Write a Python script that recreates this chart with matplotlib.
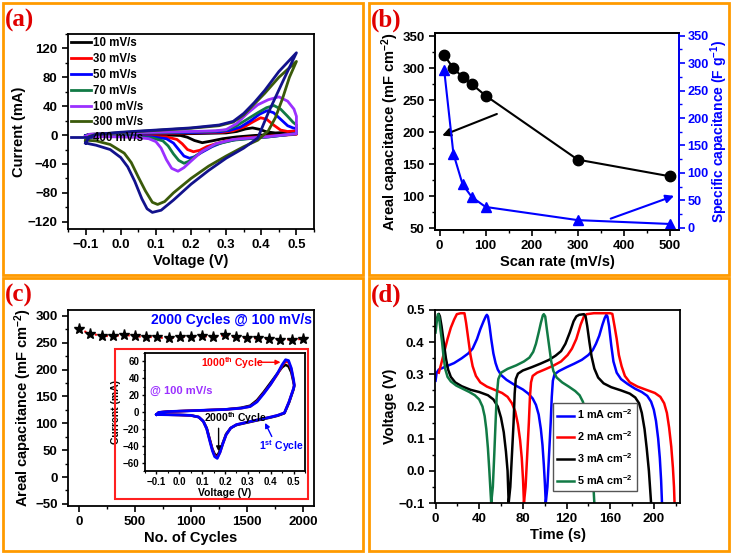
import numpy as np
import matplotlib.pyplot as plt
from matplotlib.patches import Rectangle
from matplotlib.ticker import MultipleLocator

plt.rcParams['font.family'] = ['Liberation Sans', 'DejaVu Sans']
plt.rcParams['font.weight'] = 'bold'
plt.rcParams['axes.labelweight'] = 'bold'
plt.rcParams['mathtext.fontset'] = 'custom'
plt.rcParams['mathtext.rm'] = 'Liberation Sans:bold'
plt.rcParams['mathtext.bf'] = 'Liberation Sans:bold'
plt.rcParams['mathtext.default'] = 'bf'
plt.rcParams['axes.linewidth'] = 1.3

# ---------------- (a) CV at different scan rates ----------------
cv_labels = ['10 mV/s', '30 mV/s', '50 mV/s', '70 mV/s', '100 mV/s', '300 mV/s', '400 mV/s']
cv_colors = ['#000000', '#FF0000', '#0000FF', '#117A45', '#9B30FF', '#3A5A0A', '#12128C']

v_10 = [-0.10, -0.09, 0.00, 0.10, 0.20, 0.30, 0.33, 0.355, 0.375, 0.395, 0.415, 0.44, 0.50,
        0.50, 0.44, 0.38, 0.33, 0.29, 0.26, 0.232, 0.21, 0.19, 0.17, 0.10, 0.00, -0.10]
i_10 = [-0.5, 1, 1.5, 1.8, 2, 3, 5, 8.5, 10, 8, 4.5, 3, 4.5,
        2.5, 1, -0.5, -2.5, -5, -8, -10.5, -7.5, -3, -0.5, 0.5, 0, -0.5]

v_30 = [-0.10, -0.09, 0.00, 0.10, 0.20, 0.29, 0.32, 0.35, 0.375, 0.398, 0.415, 0.435, 0.455, 0.475, 0.50,
        0.50, 0.43, 0.35, 0.30, 0.27, 0.245, 0.225, 0.207, 0.19, 0.175, 0.16, 0.13, 0.05, -0.10]
i_30 = [-1.5, 1, 2, 2.5, 3, 4, 6, 11, 18, 24, 22, 14, 7, 5, 6,
        1, -1, -4, -8, -12, -16, -21, -23, -20, -12, -6, -2.5, -1.5, -1.5]

v_50 = [-0.10, -0.09, 0.00, 0.10, 0.20, 0.28, 0.31, 0.34, 0.37, 0.395, 0.417, 0.435, 0.455, 0.475, 0.49, 0.50,
        0.50, 0.42, 0.33, 0.29, 0.26, 0.23, 0.21, 0.196, 0.18, 0.165, 0.15, 0.13, 0.09, 0.00, -0.10]
i_50 = [-1, 1, 2, 3, 3.5, 4.5, 6.5, 11, 20, 29, 34, 31, 22, 13, 10, 9,
        2, -2.5, -6, -10, -16, -24, -30, -32, -29, -20, -11, -5, -2.5, -1.5, -1]

v_70 = [-0.10, -0.09, 0.00, 0.10, 0.20, 0.27, 0.30, 0.33, 0.36, 0.39, 0.415, 0.436, 0.455, 0.475, 0.49, 0.50,
        0.50, 0.42, 0.32, 0.27, 0.24, 0.21, 0.195, 0.18, 0.165, 0.15, 0.135, 0.12, 0.09, 0.04, 0.00, -0.10]
i_70 = [-1.5, 1, 2.5, 3.5, 4.5, 5.5, 7, 13, 22, 31, 38, 41, 36, 26, 18, 14,
        2, -2.5, -7, -13, -20, -30, -36, -39, -35, -26, -15, -8, -4, -2.5, -2, -1.5]

v_100 = [-0.10, -0.09, 0.00, 0.10, 0.20, 0.27, 0.30, 0.33, 0.36, 0.39, 0.42, 0.45, 0.475, 0.493, 0.50,
         0.50, 0.42, 0.32, 0.27, 0.23, 0.20, 0.18, 0.163, 0.145, 0.13, 0.115, 0.10, 0.08, 0.04, 0.00, -0.10]
i_100 = [-2, 1, 3, 4, 5, 6, 7.6, 16, 30, 42, 49, 53, 47, 36, 26,
         2, -2, -6, -12, -23, -36, -45, -50, -46, -34, -18, -9, -5, -3, -2.5, -2]

v_300 = [-0.10, -0.09, -0.07, 0.00, 0.10, 0.20, 0.28, 0.32, 0.35, 0.38, 0.41, 0.45, 0.50,
         0.48, 0.46, 0.44, 0.42, 0.39, 0.35, 0.30, 0.25, 0.20, 0.15, 0.125, 0.105, 0.09, 0.07, 0.05, 0.03, 0.01, -0.03, -0.07, -0.10]
i_300 = [-8, -2, 1, 3.5, 6.5, 9.5, 13, 18, 28, 43, 58, 80, 102,
         80, 50, 24, 6, -7, -16, -29, -43, -60, -80, -92, -96, -93, -77, -58, -38, -25, -13, -8, -7]

v_400 = [-0.10, -0.09, -0.07, 0.00, 0.10, 0.20, 0.28, 0.32, 0.35, 0.38, 0.41, 0.45, 0.50,
         0.46, 0.42, 0.39, 0.35, 0.30, 0.25, 0.20, 0.15, 0.115, 0.09, 0.075, 0.06, 0.04, 0.02, 0.00, -0.03, -0.07, -0.10]
i_400 = [-11, -3, 1, 4, 7, 10, 14, 19, 30, 45, 62, 88, 114,
         73, 31, -4, -18, -32, -49, -68, -90, -104, -107, -102, -88, -64, -44, -31, -20, -14, -11]

cv_v = [v_10, v_30, v_50, v_70, v_100, v_300, v_400]
cv_i = [i_10, i_30, i_50, i_70, i_100, i_300, i_400]

# ---------------- (b) capacitance vs scan rate ----------------
scan_rate = [10, 30, 50, 70, 100, 300, 500]
areal_cap = [320, 300, 286, 275, 257, 157, 131]
specific_cap = [287, 135, 79, 56, 38, 14, 7]

# ---------------- (c) cycling ----------------
cycle_no = [0, 100, 200, 300, 400, 500, 600, 700, 800, 900, 1000,
            1100, 1200, 1300, 1400, 1500, 1600, 1700, 1800, 1900, 2000]
cycle_cap = [275, 267, 263, 262, 265, 262, 261, 260, 258, 261, 261,
             262, 261, 264, 260, 259, 258, 257, 256, 256, 257]

inset_v = [-0.10, -0.09, -0.05, 0.00, 0.10, 0.20, 0.27, 0.31, 0.34, 0.37, 0.40, 0.43, 0.45, 0.465, 0.478, 0.49, 0.50, 0.503,
           0.50, 0.48, 0.46, 0.43, 0.40, 0.34, 0.29, 0.25, 0.225, 0.205, 0.19, 0.178, 0.166, 0.155, 0.145, 0.135, 0.12, 0.105, 0.085, 0.05, 0.00, -0.06, -0.10]
inset_i_1st = [-3, -0.5, 0.5, 1, 2, 3, 4.5, 6.5, 12, 22, 33, 46, 56, 62, 61, 52, 38, 32,
               28, 12, -1, -4, -6, -9.5, -12.5, -15, -19, -27, -38, -48, -55, -53, -46, -36, -20, -11, -6, -4, -3.5, -3.2, -3]
inset_i_1000 = [-3, -0.5, 0.5, 1, 2, 3, 4.5, 6.5, 12.5, 22.5, 33, 45, 55, 60, 59, 51, 37, 32,
                28, 12, -1, -4, -6, -9.5, -12.5, -15, -19, -27, -38, -48, -54, -52, -45, -35, -20, -11, -6, -4, -3.5, -3.2, -3]
inset_i_2000 = [-3, -0.5, 0.5, 1, 2, 3, 5, 7.5, 14, 24, 35, 46, 53, 56, 54, 47, 35, 31,
                27, 11, -1.5, -4.5, -6.5, -10, -13, -15.5, -19, -26, -37, -46, -52, -50, -44, -34, -19, -11, -6, -4, -3.5, -3.2, -3]

# ---------------- (d) GCD ----------------
gcd_labels = ['1 mA cm$^{-2}$', '2 mA cm$^{-2}$', '3 mA cm$^{-2}$', '5 mA cm$^{-2}$']
gcd_colors = ['#0000FF', '#FF0000', '#000000', '#117A45']

t_1 = [0, 1, 3, 10, 17, 24, 30, 34, 38, 41, 44, 46, 47, 48,
       49.5, 51, 53, 55, 57, 60, 65, 72, 80, 85, 89, 92, 94.5, 96.5, 98, 99.2, 100.2, 101,
       102.5, 104, 105.5, 106.5, 107.5, 109, 113, 120, 127, 134, 140, 144, 147, 150, 153, 155, 156.5, 157.5,
       159, 161, 163, 166, 170, 176, 183, 189, 194, 197.5, 200, 202, 204, 205.5, 206.7, 207.5]
u_1 = [0.28, 0.305, 0.315, 0.325, 0.335, 0.35, 0.365, 0.38, 0.41, 0.44, 0.465, 0.48, 0.485, 0.48,
       0.45, 0.41, 0.365, 0.335, 0.315, 0.298, 0.283, 0.268, 0.253, 0.24, 0.225, 0.205, 0.175, 0.13, 0.08, 0.02, -0.04, -0.1,
       -0.05, 0.05, 0.15, 0.23, 0.28, 0.30, 0.31, 0.322, 0.333, 0.345, 0.36, 0.375, 0.395, 0.42, 0.455, 0.475, 0.485, 0.48,
       0.45, 0.39, 0.34, 0.305, 0.285, 0.27, 0.255, 0.245, 0.233, 0.215, 0.19, 0.155, 0.10, 0.04, -0.03, -0.1]

t_2 = [3, 5, 8, 11, 14, 17, 19.5, 23, 26.5,
       28, 30, 32, 34, 37, 41, 47, 54, 61, 66, 70, 73, 75.5, 77.5, 79, 80.2, 81,
       82.5, 84, 85.5, 86.5, 87.5, 89, 93, 100, 108, 115, 121, 125, 129, 133, 136, 138.5, 145, 160, 162,
       164, 166, 168, 170.5, 173.5, 178, 185, 193, 201, 206, 209.5, 212, 214, 216, 217.5, 218.5, 219]
u_2 = [0.305, 0.33, 0.37, 0.41, 0.445, 0.47, 0.487, 0.49, 0.49,
       0.46, 0.41, 0.36, 0.325, 0.295, 0.275, 0.262, 0.252, 0.242, 0.23, 0.21, 0.185, 0.145, 0.095, 0.04, -0.03, -0.1,
       -0.05, 0.05, 0.15, 0.23, 0.275, 0.295, 0.305, 0.315, 0.327, 0.34, 0.36, 0.38, 0.41, 0.455, 0.48, 0.487, 0.49, 0.49, 0.488,
       0.45, 0.41, 0.36, 0.325, 0.295, 0.275, 0.262, 0.252, 0.242, 0.23, 0.21, 0.18, 0.135, 0.075, 0.01, -0.05, -0.1]

t_3 = [1.5, 3, 4,
       5.5, 7.5, 9.5, 11.5, 14, 18, 24, 32, 40, 48, 53, 57, 60, 62.5, 64.5, 66, 67,
       68.5, 70, 71.5, 72.5, 73.5, 75.5, 80, 88, 96, 104, 110, 115, 119, 123, 126.5, 129, 131.5, 136, 137.5,
       139, 141, 143, 145.5, 149, 154, 161, 170, 178, 183, 186.5, 189, 191.5, 193.5, 195.5, 196.7, 197.5]
u_3 = [0.475, 0.488, 0.48,
       0.45, 0.40, 0.35, 0.315, 0.292, 0.275, 0.263, 0.252, 0.245, 0.235, 0.222, 0.20, 0.165, 0.12, 0.06, 0.0, -0.1,
       -0.05, 0.05, 0.15, 0.24, 0.285, 0.302, 0.312, 0.322, 0.333, 0.345, 0.358, 0.372, 0.395, 0.43, 0.465, 0.48, 0.485, 0.487, 0.48,
       0.45, 0.40, 0.355, 0.318, 0.29, 0.272, 0.26, 0.25, 0.24, 0.228, 0.21, 0.18, 0.13, 0.07, 0.0, -0.06, -0.1]

t_5 = [0, 1, 2.2, 3.2,
       4.5, 6, 7.5, 9, 11, 14, 19, 25, 31, 36, 40, 43, 45, 46.5, 48, 49.3, 50.3, 51,
       52.5, 53.8, 55, 56, 57.5, 60, 66, 74, 81, 86, 89.5, 92, 94.5, 96.5, 98.3, 99.2, 100.5,
       102, 104, 106, 108, 111, 116, 122, 128, 132, 135, 137.5, 139.5, 141.5, 143.3, 144.7, 145.5]
u_5 = [0.43, 0.46, 0.487, 0.48,
       0.44, 0.40, 0.35, 0.315, 0.292, 0.278, 0.265, 0.255, 0.245, 0.235, 0.222, 0.20, 0.17, 0.13, 0.07, 0.0, -0.06, -0.1,
       -0.05, 0.05, 0.15, 0.23, 0.285, 0.305, 0.317, 0.328, 0.34, 0.352, 0.37, 0.395, 0.43, 0.46, 0.483, 0.487, 0.48,
       0.44, 0.39, 0.34, 0.31, 0.29, 0.275, 0.262, 0.248, 0.235, 0.215, 0.185, 0.14, 0.08, 0.01, -0.05, -0.1]

gcd_t = [t_1, t_2, t_3, t_5]
gcd_u = [u_1, u_2, u_3, u_5]

W, H = 734, 554
fig = plt.figure(figsize=(W / 100, H / 100), dpi=100)


def px_box(l, t, r, b):
    return [l / W, 1 - b / H, (r - l) / W, (b - t) / H]


def style(ax, fs=9.5):
    ax.tick_params(which='major', direction='out', length=4, width=1.2, labelsize=fs)
    ax.tick_params(which='minor', direction='out', length=2.2, width=1.0)


# orange frames and panel letters
frames = [(3, 3, 363, 275), (369, 3, 729, 275), (3, 278, 363, 551), (369, 278, 729, 551)]
for (l, t, r, b), letter in zip(frames, ['(a)', '(b)', '(c)', '(d)']):
    fig.patches.append(Rectangle((l / W, 1 - b / H), (r - l) / W, (b - t) / H,
                                 transform=fig.transFigure, fill=False,
                                 edgecolor='#FF9A00', linewidth=2.0, zorder=0))
    fig.text((l + 2) / W, 1 - (t + 6) / H, letter, ha='left', va='top', color='#E00000',
             fontsize=18, fontweight='bold', family='Liberation Serif', zorder=5)

# ---- (a)
ax = fig.add_axes(px_box(68, 34, 314, 229))
for v, i, c, lab in zip(cv_v, cv_i, cv_colors, cv_labels):
    ax.plot(v, i, color=c, lw=2.0, label=lab, solid_joinstyle='round')
ax.set_xlim(-0.15, 0.55)
ax.set_ylim(-130, 140)
ax.xaxis.set_minor_locator(MultipleLocator(0.05))
ax.yaxis.set_major_locator(MultipleLocator(40))
ax.yaxis.set_minor_locator(MultipleLocator(20))
ax.set_xticks([-0.1, 0.0, 0.1, 0.2, 0.3, 0.4, 0.5])
ax.set_xlabel('Voltage (V)', fontsize=10.5, labelpad=2)
ax.set_ylabel('Current (mA)', fontsize=10.5, labelpad=1)
style(ax)
ax.legend(loc='upper left', frameon=False, fontsize=8.3, handlelength=1.7, handletextpad=0.2,
          labelspacing=0.33, borderaxespad=0.1, borderpad=0.2)

# ---- (b)
ax = fig.add_axes(px_box(435, 33, 679, 230))
ax.plot(scan_rate, areal_cap, '-o', color='black', ms=7.5, lw=1.5)
ax.set_xlim(-10, 520)
ax.set_ylim(47, 355)
ax.xaxis.set_major_locator(MultipleLocator(100))
ax.xaxis.set_minor_locator(MultipleLocator(50))
ax.yaxis.set_major_locator(MultipleLocator(50))
ax.yaxis.set_minor_locator(MultipleLocator(25))
ax.set_xlabel('Scan rate (mV/s)', fontsize=10.5, labelpad=2)
ax.set_ylabel('Areal capacitance (mF cm$^{-2}$)', fontsize=10.5, labelpad=1)
style(ax)
ax.annotate('', xy=(0, 193), xytext=(130, 230),
            arrowprops=dict(arrowstyle='-|>', color='black', lw=1.5, mutation_scale=12))
ax2 = ax.twinx()
ax2.plot(scan_rate, specific_cap, '-^', color='#0000FF', ms=7, lw=1.5)
ax2.set_ylim(-4, 355)
ax2.yaxis.set_major_locator(MultipleLocator(50))
ax2.yaxis.set_minor_locator(MultipleLocator(25))
style(ax2, fs=9.2)
ax2.tick_params(axis='y', which='major', pad=2)
ax2.set_ylabel('Specific capacitance (F g$^{-1}$)', fontsize=10, color='#0000FF', labelpad=0)
ax2.tick_params(axis='y', which='both', colors='#0000FF')
ax2.spines['right'].set_color('#0000FF')
ax2.annotate('', xy=(515, 60), xytext=(366, 15),
             arrowprops=dict(arrowstyle='-|>', color='#0000FF', lw=1.5, mutation_scale=12))

# ---- (c)
ax = fig.add_axes(px_box(68, 310, 314, 506))
ax.plot(cycle_no, cycle_cap, ':', color='red', lw=1.5)
ax.plot(cycle_no, cycle_cap, '*', color='black', ms=8, ls='none')
ax.set_xlim(-100, 2100)
ax.set_ylim(-54, 311)
ax.xaxis.set_major_locator(MultipleLocator(500))
ax.xaxis.set_minor_locator(MultipleLocator(250))
ax.yaxis.set_major_locator(MultipleLocator(50))
ax.yaxis.set_minor_locator(MultipleLocator(25))
ax.set_xlabel('No. of Cycles', fontsize=10.5, labelpad=2)
ax.set_ylabel('Areal capacitance (mF cm$^{-2}$)', fontsize=10.5, labelpad=1)
style(ax)
ax.text(0.99, 0.95, '2000 Cycles @ 100 mV/s', transform=ax.transAxes, ha='right', va='center',
        color='#0000FF', fontsize=10, fontweight='bold')
fig.patches.append(Rectangle((115 / W, 1 - 499 / H), 193 / W, 150 / H, transform=fig.transFigure,
                             fill=False, edgecolor='#FF2020', linewidth=1.5, zorder=3))

axi = fig.add_axes(px_box(145, 353, 305, 471))
axi.plot(inset_v, inset_i_2000, color='black', lw=1.8)
axi.plot(inset_v, inset_i_1000, color='red', lw=1.8)
axi.plot(inset_v, inset_i_1st, color='#0000FF', lw=2.0)
axi.set_xlim(-0.15, 0.55)
axi.set_ylim(-70, 70)
axi.set_xticks([-0.1, 0.0, 0.1, 0.2, 0.3, 0.4, 0.5])
axi.xaxis.set_minor_locator(MultipleLocator(0.05))
axi.yaxis.set_major_locator(MultipleLocator(20))
axi.yaxis.set_minor_locator(MultipleLocator(10))
axi.set_xlabel('Voltage (V)', fontsize=7.5, labelpad=1)
axi.set_ylabel('Current (mA)', fontsize=7.5, labelpad=1)
axi.tick_params(which='major', direction='out', length=2.5, width=1, labelsize=7, pad=1.5)
axi.tick_params(which='minor', direction='out', length=1.5, width=0.8)
axi.text(0.095, 58, '1000$^{th}$ Cycle', color='red', fontsize=7.5, va='center', ha='left')
axi.annotate('', xy=(0.455, 59), xytext=(0.33, 59),
             arrowprops=dict(arrowstyle='-|>', color='red', lw=1, mutation_scale=7))
axi.text(-0.13, 25, '@ 100 mV/s', color='#9B30FF', fontsize=8, va='center', ha='left')
axi.text(0.11, -7, '2000$^{th}$ Cycle', color='black', fontsize=7.5, va='center', ha='left')
axi.annotate('', xy=(0.172, -50), xytext=(0.172, -16),
             arrowprops=dict(arrowstyle='-|>', color='black', lw=1, mutation_scale=7))
axi.text(0.35, -41, '1$^{st}$ Cycle', color='#0000FF', fontsize=7.5, va='center', ha='left')
axi.annotate('', xy=(0.37, -10), xytext=(0.41, -32),
             arrowprops=dict(arrowstyle='-|>', color='#0000FF', lw=1, mutation_scale=7))

# ---- (d)
ax = fig.add_axes(px_box(435, 310, 680, 503))
for t, u, c, lab in zip(gcd_t, gcd_u, gcd_colors, gcd_labels):
    ax.plot(t, u, color=c, lw=1.8, label=lab)
ax.set_xlim(-0.5, 224)
ax.set_ylim(-0.1, 0.5)
ax.xaxis.set_major_locator(MultipleLocator(40))
ax.xaxis.set_minor_locator(MultipleLocator(20))
ax.yaxis.set_major_locator(MultipleLocator(0.1))
ax.yaxis.set_minor_locator(MultipleLocator(0.05))
ax.set_xlabel('Time (s)', fontsize=10.5, labelpad=2)
ax.set_ylabel('Voltage (V)', fontsize=10.5, labelpad=1)
style(ax)
leg = ax.legend(loc='lower left', bbox_to_anchor=(0.48, 0.06), fontsize=7.8, handlelength=1.6,
                handletextpad=0.25, labelspacing=0.75, borderpad=0.4, borderaxespad=0,
                fancybox=False, edgecolor='#555555', framealpha=1)
leg.get_frame().set_linewidth(1.0)

fig.savefig('out.png', dpi=100)
